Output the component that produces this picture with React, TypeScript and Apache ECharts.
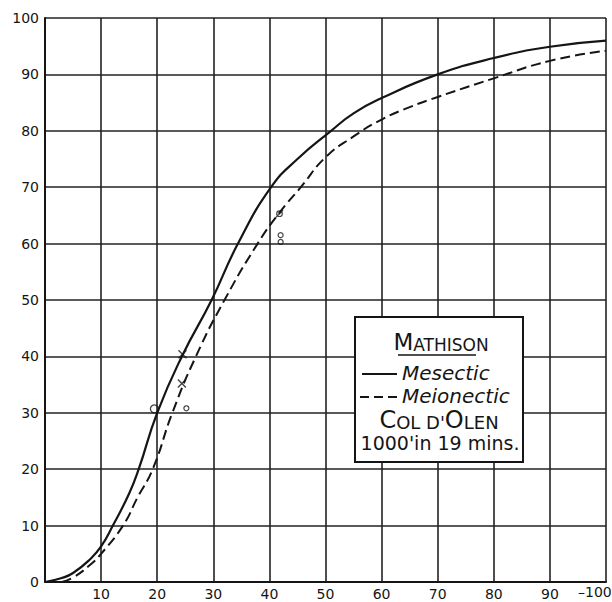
import React, { useEffect, useRef } from "react";
import * as echarts from "echarts";

// Percentage curves (x: 0–100, y: 0–100)
const mesecticCurve: [number, number][] = [
  [0, 0], [3, 0.7], [5, 1.6], [8, 4], [10, 6.3], [12.1, 10], [15, 15.7],
  [16.7, 20], [20, 30], [24.4, 40], [29.7, 50], [34.4, 60], [40.3, 70],
  [45, 75], [51, 80], [55, 83.1], [60, 85.8], [70, 90], [80, 92.9],
  [90, 94.9], [100, 96],
];

const meionecticCurve: [number, number][] = [
  [3, 0], [5, 0.8], [8, 3], [10, 5], [13.9, 10], [16.5, 15], [19.2, 20],
  [22.7, 30], [26.9, 40], [32, 50], [37.9, 60], [41.8, 65.5], [45.6, 70],
  [50, 75.3], [55, 79], [60, 82], [65, 84.2], [70, 86], [80, 89.3],
  [90, 92.4], [100, 94.2],
];

// Observed points
const openCircleObs: [number, number][] = [[19.5, 30.7]];
const smallCircleObs: [number, number][] = [[25.2, 30.8], [42, 61.5], [42, 60.3]];
const slashedCircleObs: [number, number][] = [[41.8, 65.3]];
const crossObs: [number, number][] = [[24.5, 40.4], [24.4, 35.2]];

const AXIS_MIN = 0;
const AXIS_MAX = 100;
const AXIS_STEP = 10;
const LAST_X_LABEL = "–100";

const INK = "#151515";
const FONT = "DejaVu Sans";

export default function App() {
  const ref = useRef<HTMLDivElement>(null);

  useEffect(() => {
    if (!ref.current) return;
    const chart = echarts.init(ref.current, undefined, { renderer: "svg" });

    const axisCommon = {
      type: "value" as const,
      min: AXIS_MIN,
      max: AXIS_MAX,
      interval: AXIS_STEP,
      axisLine: { show: true, lineStyle: { color: INK, width: 2 } },
      axisTick: { show: false },
      splitLine: { show: true, lineStyle: { color: "#222", width: 1.6 } },
    };

    chart.setOption({
      animation: false,
      backgroundColor: "#fff",
      grid: { left: 45, right: 6, top: 18, bottom: 20, containLabel: false },
      xAxis: {
        ...axisCommon,
        axisLabel: {
          margin: 5,
          color: INK,
          fontFamily: FONT,
          fontSize: 14,
          // the last label runs off the right edge, drawn separately below
          formatter: (v: number) => (v === AXIS_MIN || v === AXIS_MAX ? "" : String(v)),
        },
      },
      yAxis: {
        ...axisCommon,
        axisLabel: { margin: 6, color: INK, fontFamily: FONT, fontSize: 14 },
      },
      series: [
        {
          name: "Mesectic",
          type: "line",
          data: mesecticCurve,
          smooth: 0.5,
          showSymbol: false,
          lineStyle: { color: INK, width: 2.2 },
          z: 5,
        },
        {
          name: "Meionectic",
          type: "line",
          data: meionecticCurve,
          smooth: 0.5,
          showSymbol: false,
          lineStyle: { color: INK, width: 2, type: [10, 5] },
          z: 5,
        },
        {
          type: "scatter",
          data: openCircleObs,
          symbol: "circle",
          symbolSize: 8,
          itemStyle: { color: "rgba(255,255,255,0)", borderColor: INK, borderWidth: 1.3 },
          z: 6,
        },
        {
          type: "scatter",
          data: smallCircleObs,
          symbol: "circle",
          symbolSize: 5,
          itemStyle: { color: "rgba(255,255,255,0)", borderColor: INK, borderWidth: 1.2 },
          z: 6,
        },
        {
          type: "scatter",
          data: slashedCircleObs,
          symbol: "path://M5 1A4 4 0 1 1 5 9A4 4 0 1 1 5 1ZM0 10L10 0",
          symbolSize: 7,
          itemStyle: { color: "rgba(255,255,255,0)", borderColor: INK, borderWidth: 1.2 },
          z: 6,
        },
        {
          type: "scatter",
          data: crossObs,
          symbol: "path://M0 0L10 10M10 0L0 10",
          symbolSize: 8,
          itemStyle: { color: "rgba(255,255,255,0)", borderColor: INK, borderWidth: 1.4 },
          z: 6,
        },
      ],
      graphic: [
        {
          type: "text",
          z: 50,
          x: 578,
          y: 592,
          style: {
            text: LAST_X_LABEL,
            align: "left",
            verticalAlign: "middle",
            fontSize: 14,
            fontFamily: FONT,
            fill: INK,
          },
        },
        {
          type: "rect",
          z: 100,
          shape: { x: 355, y: 317, width: 168, height: 145 },
          style: { fill: "#fff", stroke: INK, lineWidth: 2 },
        },
        {
          type: "text",
          z: 101,
          x: 441,
          y: 342,
          style: {
            text: "{b|M}{s|ATHISON}",
            align: "center",
            verticalAlign: "middle",
            rich: {
              b: { fontSize: 23, fontFamily: FONT, fill: INK, verticalAlign: "bottom" },
              s: { fontSize: 17, fontFamily: FONT, fill: INK, verticalAlign: "bottom" },
            },
          },
        },
        {
          type: "line",
          z: 101,
          shape: { x1: 398, y1: 355, x2: 476, y2: 355 },
          style: { stroke: INK, lineWidth: 1.6 },
        },
        {
          type: "line",
          z: 101,
          shape: { x1: 362, y1: 374, x2: 397, y2: 374 },
          style: { stroke: INK, lineWidth: 2 },
        },
        {
          type: "text",
          z: 101,
          x: 402,
          y: 373,
          style: {
            text: "Mesectic",
            align: "left",
            verticalAlign: "middle",
            fontSize: 20,
            fontStyle: "italic",
            fontFamily: FONT,
            fill: INK,
          },
        },
        {
          type: "line",
          z: 101,
          shape: { x1: 360, y1: 397, x2: 401, y2: 397 },
          style: { stroke: INK, lineWidth: 2, lineDash: [9, 5] },
        },
        {
          type: "text",
          z: 101,
          x: 402,
          y: 395.5,
          style: {
            text: "Meionectic",
            align: "left",
            verticalAlign: "middle",
            fontSize: 20,
            fontStyle: "italic",
            fontFamily: FONT,
            fill: INK,
          },
        },
        {
          type: "text",
          z: 101,
          x: 439,
          y: 419.5,
          style: {
            text: "{b|C}{s|OL D'}{b|O}{s|LEN}",
            align: "center",
            verticalAlign: "middle",
            rich: {
              b: { fontSize: 24, fontFamily: FONT, fill: INK, verticalAlign: "bottom" },
              s: { fontSize: 18, fontFamily: FONT, fill: INK, verticalAlign: "bottom" },
            },
          },
        },
        {
          type: "text",
          z: 101,
          x: 440,
          y: 443,
          style: {
            text: "1000'in 19 mins.",
            align: "center",
            verticalAlign: "middle",
            fontSize: 19,
            fontFamily: FONT,
            fill: INK,
          },
        },
      ],
    });

    return () => chart.dispose();
  }, []);

  return (
    <div
      ref={ref}
      style={{ position: "fixed", left: 0, top: 0, width: 612, height: 602, background: "#fff" }}
    />
  );
}
